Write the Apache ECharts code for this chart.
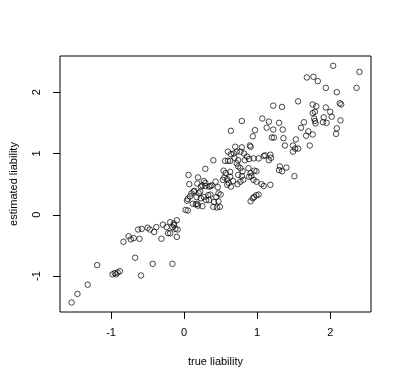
<!DOCTYPE html>
<html>
<head>
<meta charset="utf-8">
<script src="https://cdn.jsdelivr.net/npm/echarts@6/dist/echarts.min.js"></script>
<style>
html,body{margin:0;padding:0;background:#fff;}
#chart{width:400px;height:383px;}
</style>
</head>
<body>
<div id="chart"></div>
<script>
const trueLiability = [
-1.54,-1.46,-1.32,-1.19,-0.98,-0.95,-0.93,-0.91,-0.88,-0.83,
-0.76,-0.73,-0.69,-0.61,-0.67,-0.59,-0.43,-0.16,-0.63,-0.58,
-0.50,-0.47,-0.41,-0.38,-0.31,-0.29,-0.24,-0.22,-0.19,-0.19,
-0.14,-0.10,-0.16,-0.12,-0.09,-0.10,-0.14,0.02,0.05,0.06,
0.07,0.04,0.05,0.08,0.10,0.13,0.19,0.22,0.17,0.16,
0.19,0.25,0.23,0.27,0.29,0.29,0.27,0.30,0.33,0.36,
0.36,0.40,0.43,0.40,0.45,0.49,0.47,0.46,0.50,0.44,
0.23,0.12,0.64,0.79,0.60,0.64,0.70,0.79,0.90,0.91,
0.77,0.82,0.86,0.89,0.74,0.69,0.56,0.60,0.63,0.74,
0.77,0.80,0.54,0.57,0.63,0.55,0.59,0.61,0.59,0.64,
0.73,0.77,0.79,0.88,0.91,0.96,0.99,0.92,0.89,0.95,
0.99,1.06,1.09,1.18,1.02,1.09,1.11,1.18,1.19,1.16,
0.91,0.94,0.96,0.99,1.02,0.67,0.53,0.95,0.83,1.22,
1.34,1.07,1.16,1.13,1.22,1.30,1.35,0.97,0.94,1.20,
1.23,1.36,1.53,1.38,1.49,1.52,1.56,1.49,1.31,1.30,
1.34,1.40,1.51,1.56,1.68,1.77,1.83,1.94,2.04,2.40,
2.36,2.09,1.76,1.81,1.94,2.13,2.15,1.76,1.79,2.00,
1.91,2.02,1.78,1.79,1.80,1.64,1.90,1.95,2.14,2.09,
2.08,1.60,1.70,1.67,1.76,1.72,0.18,0.25,0.29,0.34,
0.38,0.14,0.20,0.47,0.18,0.34,0.41,0.68,0.72,0.72,
0.74,0.81,0.63
];
const estimatedLiability = [
-1.43,-1.29,-1.14,-0.82,-0.97,-0.95,-0.97,-0.94,-0.92,-0.44,
-0.35,-0.40,-0.38,-0.39,-0.70,-0.99,-0.80,-0.80,-0.24,-0.23,
-0.21,-0.24,-0.28,-0.20,-0.39,-0.16,-0.20,-0.30,-0.30,-0.12,
-0.14,-0.09,-0.20,-0.23,-0.24,-0.36,-0.17,0.08,0.07,0.65,
0.50,0.23,0.26,0.30,0.35,0.38,0.61,0.38,0.29,0.17,
0.15,0.14,0.46,0.55,0.75,0.47,0.29,0.24,0.32,0.33,
0.47,0.89,0.54,0.13,0.12,0.13,0.22,0.45,0.33,0.29,
0.27,0.18,1.37,1.53,1.03,0.99,1.11,1.10,1.13,1.11,
1.03,1.00,0.95,0.91,0.89,0.93,0.88,0.88,0.88,0.79,
0.76,0.71,0.72,0.68,0.70,0.61,0.58,0.52,0.49,0.46,
0.50,0.54,0.63,0.76,0.68,0.72,0.71,0.63,0.62,0.57,
0.54,0.50,0.47,0.49,0.92,0.96,0.97,0.98,0.93,0.89,
0.22,0.27,0.29,0.32,0.33,0.55,0.57,0.92,0.89,1.78,
1.76,1.57,1.52,1.42,1.39,1.50,1.39,1.38,1.28,1.26,
1.26,1.25,1.23,1.13,1.13,1.08,1.08,1.03,0.79,0.73,
0.71,0.77,0.63,1.85,2.24,2.25,2.18,2.07,2.43,2.33,
2.07,2.00,1.80,1.77,1.75,1.82,1.80,1.66,1.68,1.68,
1.59,1.60,1.57,1.53,1.49,1.51,1.51,1.50,1.54,1.41,
1.32,1.42,1.36,1.29,1.31,1.13,0.51,0.48,0.52,0.46,
0.48,0.39,0.35,0.35,0.18,0.24,0.21,1.00,1.03,0.84,
0.65,0.57,0.62
];
const xTicks = [-1, 0, 1, 2];
const yTicks = [-1, 0, 1, 2];
const xTitle = 'true liability';
const yTitle = 'estimated liability';

const points = trueLiability.map((x, i) => [x, estimatedLiability[i]]);
const font = 'Liberation Sans, Arial, sans-serif';

const chart = echarts.init(document.getElementById('chart'), null, {renderer: 'canvas'});
chart.setOption({
  animation: false,
  backgroundColor: '#ffffff',
  grid: {
    left: 56, right: 29, top: 56, bottom: 71,
    show: true, borderColor: '#000', borderWidth: 1, backgroundColor: 'transparent'
  },
  xAxis: {
    type: 'value',
    min: -1.699, max: 2.558,
    splitLine: {show: false},
    axisLine: {show: false, onZero: false},
    axisTick: {show: true, inside: false, length: 7, customValues: xTicks, lineStyle: {color: '#000', width: 1}},
    axisLabel: {show: true, customValues: xTicks, margin: 15, color: '#000', fontSize: 11, fontFamily: font,
      formatter: v => String(v)},
    name: xTitle, nameLocation: 'middle', nameGap: 44,
    nameTextStyle: {color: '#000', fontSize: 11, fontFamily: font}
  },
  yAxis: {
    type: 'value',
    min: -1.585, max: 2.590,
    splitLine: {show: false},
    axisLine: {show: false, onZero: false},
    axisTick: {show: true, inside: false, length: 7, customValues: yTicks, lineStyle: {color: '#000', width: 1}},
    axisLabel: {show: true, customValues: yTicks, rotate: 90, margin: 18, color: '#000', fontSize: 11, fontFamily: font,
      formatter: v => String(v)},
    name: yTitle, nameLocation: 'middle', nameGap: 41,
    nameTextStyle: {color: '#000', fontSize: 11, fontFamily: font}
  },
  series: [{
    type: 'scatter',
    data: points,
    symbol: 'circle',
    symbolSize: 5.5,
    itemStyle: {color: 'rgba(0,0,0,0)', borderColor: '#000', borderWidth: 0.9},
    emphasis: {disabled: true}
  }]
});
</script>
</body>
</html>
